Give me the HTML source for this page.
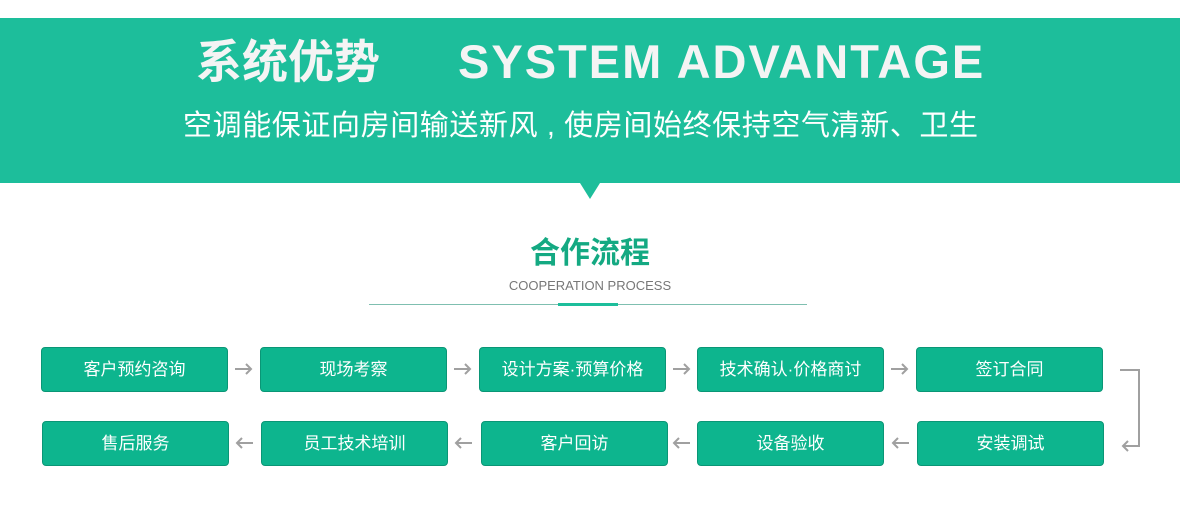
<!DOCTYPE html>
<html><head><meta charset="utf-8"><style>
*{margin:0;padding:0;box-sizing:border-box}
body{width:1180px;height:509px;background:#fff;position:relative;overflow:hidden;font-family:"Liberation Sans","Noto Sans CJK SC",sans-serif}
.ban{position:absolute;left:0;top:18px;width:1180px;height:165px;background:#1dbe9b}
.tri{position:absolute;left:580px;top:183px;width:0;height:0;border-left:10px solid transparent;border-right:10px solid transparent;border-top:16px solid #1dbe9b}
.t{position:absolute;color:#fff;white-space:nowrap;font-weight:bold}
.b{position:absolute;height:45px;width:187px;background:#0db58e;border:1px solid #0a9676;border-radius:4px;color:#fff;font-size:17px;text-align:center;line-height:43px;font-family:"Liberation Sans","Noto Sans CJK SC",sans-serif}
</style></head><body>
<div class="ban"></div><div class="tri"></div>
<div class="t" style="left:196px;top:34px;font-size:46px;line-height:56px;color:#f4f4f4">系统优势</div>
<div class="t" style="left:458px;top:34px;font-size:47px;line-height:56px;color:#f4f4f4;letter-spacing:2px">SYSTEM ADVANTAGE</div>
<div class="t" style="left:183px;top:106px;font-size:29px;line-height:40px;font-weight:normal;letter-spacing:0.6px">空调能保证向房间输送新风&nbsp;,&nbsp;使房间始终保持空气清新、卫生</div>
<div class="t" style="left:0;width:1180px;text-align:center;top:235px;font-size:30px;line-height:38px;color:#14a982">合作流程</div>
<div class="t" style="left:0;width:1180px;text-align:center;top:278px;font-size:13px;line-height:16px;color:#777;font-weight:normal">COOPERATION PROCESS</div>
<div style="position:absolute;left:369px;top:304px;width:438px;height:1px;background:#7fbfb0"></div>
<div style="position:absolute;left:558px;top:303px;width:60px;height:3px;background:#1dbe9b"></div>

<div class="b" style="left:41px;top:347px">客户预约咨询</div>
<div class="b" style="left:260px;top:347px">现场考察</div>
<div class="b" style="left:479px;top:347px">设计方案·预算价格</div>
<div class="b" style="left:697px;top:347px">技术确认·价格商讨</div>
<div class="b" style="left:916px;top:347px">签订合同</div>
<div class="b" style="left:42px;top:421px">售后服务</div>
<div class="b" style="left:261px;top:421px">员工技术培训</div>
<div class="b" style="left:481px;top:421px">客户回访</div>
<div class="b" style="left:697px;top:421px">设备验收</div>
<div class="b" style="left:917px;top:421px">安装调试</div>

<svg style="position:absolute;left:0;top:0" width="1180" height="509">
<g stroke="#a0a0a0" stroke-width="2" fill="none">
<path d="M235 369H251M246 364L251 369L246 374"/>
<path d="M454 369H470M465 364L470 369L465 374"/>
<path d="M673 369H689M684 364L689 369L684 374"/>
<path d="M891 369H907M902 364L907 369L902 374"/>
<path d="M1120 370H1139V446H1123M1128 441L1123 446L1128 451"/>
<path d="M253 443H237M242 438L237 443L242 448"/>
<path d="M472 443H456M461 438L456 443L461 448"/>
<path d="M690 443H674M679 438L674 443L679 448"/>
<path d="M909 443H893M898 438L893 443L898 448"/>
</g></svg>
</body></html>
